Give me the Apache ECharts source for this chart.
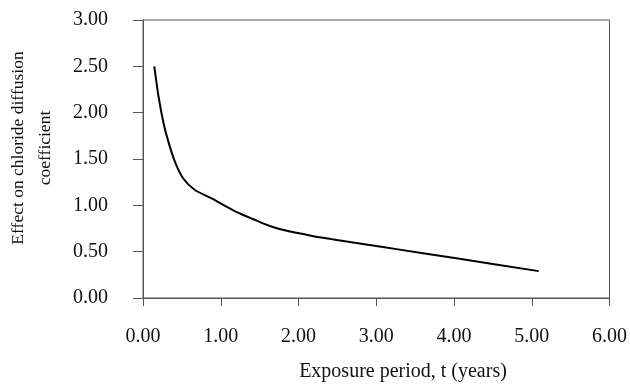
<!DOCTYPE html>
<html>
<head>
<meta charset="utf-8">
<script src="https://cdn.jsdelivr.net/npm/echarts@6/dist/echarts.min.js"></script>
<style>html,body{margin:0;padding:0;background:#fff;}#c{width:630px;height:385px;}</style>
</head>
<body>
<div id="c"></div>
<script>
var tYears = [0.145, 0.197, 0.261, 0.325, 0.411, 0.518, 0.668, 0.883, 1.00, 1.20, 1.42, 1.63, 1.85, 2.06, 2.27, 2.45, 2.87, 3.30, 4.03, 5.09];
var effect = [2.50, 2.19, 1.90, 1.69, 1.47, 1.29, 1.165, 1.076, 1.02, 0.93, 0.85, 0.777, 0.726, 0.69, 0.655, 0.632, 0.578, 0.522, 0.428, 0.29];
var xTicks = [0, 1, 2, 3, 4, 5, 6];
var yTicks = [0, 0.5, 1, 1.5, 2, 2.5, 3];
var xTitle = 'Exposure period, t (years)';
var yTitle = 'Effect on chloride diffusion\ncoefficient';

var font = '"Liberation Serif", "Times New Roman", serif';
var chart = echarts.init(document.getElementById('c'));
var pts = tYears.map(function (t, i) { return [t, effect[i]]; });
chart.setOption({
  animation: false,
  backgroundColor: '#fff',
  grid: { left: 143, top: 20, right: 20, bottom: 87, show: true, borderColor: '#555', borderWidth: 1, backgroundColor: 'transparent' },
  xAxis: {
    type: 'value', min: xTicks[0], max: xTicks[xTicks.length - 1], interval: 1,
    axisLine: { show: true, lineStyle: { color: '#555', width: 1 } },
    axisTick: { show: true, inside: false, length: 8, lineStyle: { color: '#555' } },
    splitLine: { show: false },
    axisLabel: { margin: 29, color: '#111', fontFamily: font, fontSize: 20, formatter: function (v) { return v.toFixed(2); } }
  },
  yAxis: {
    type: 'value', min: yTicks[0], max: yTicks[yTicks.length - 1], interval: 0.5,
    axisLine: { show: true, lineStyle: { color: '#555', width: 1 } },
    axisTick: { show: true, inside: false, length: 10, lineStyle: { color: '#555' } },
    splitLine: { show: false },
    axisLabel: { margin: 35, color: '#111', fontFamily: font, fontSize: 20, formatter: function (v) { return v.toFixed(2); } }
  },
  graphic: [
    { type: 'text', x: 403, y: 372, style: { text: xTitle, font: '20px ' + font, fill: '#111', textAlign: 'center', textVerticalAlign: 'middle' } },
    { type: 'text', x: 32, y: 148, rotation: Math.PI / 2, style: { text: yTitle, font: '17.5px ' + font, lineHeight: 27, fill: '#111', textAlign: 'center', textVerticalAlign: 'middle' } }
  ],
  series: [{
    type: 'line', data: pts, smooth: 0.25, showSymbol: false,
    lineStyle: { color: '#000', width: 2 }
  }]
});
</script>
</body>
</html>
